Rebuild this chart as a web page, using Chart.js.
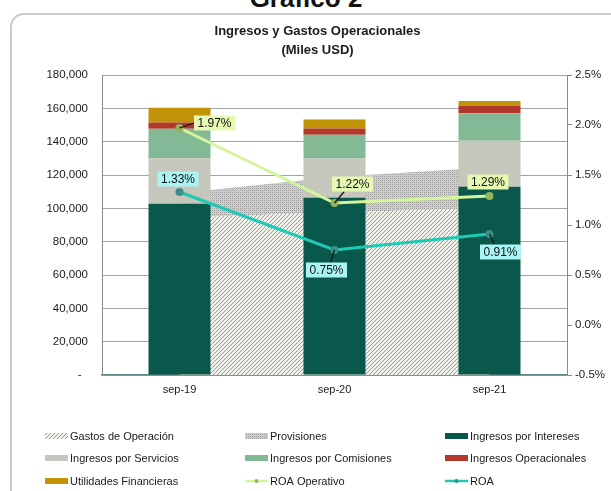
<!DOCTYPE html>
<html>
<head>
<meta charset="utf-8">
<script src="https://cdn.jsdelivr.net/npm/chart.js@4.4.1/dist/chart.umd.min.js"></script>
<style>
html,body{margin:0;padding:0;width:611px;height:491px;overflow:hidden;background:#fff;}
#cap{position:absolute;left:0;top:-17px;width:612px;text-align:center;font:bold 26px "Liberation Sans",Arial,sans-serif;line-height:30px;color:#111;}
#frame{position:absolute;left:10px;top:13px;width:650px;height:540px;border:2px solid #cbcbcb;border-radius:14px;box-sizing:border-box;background:#fff;}
#c{position:absolute;left:0;top:0;}
</style>
</head>
<body>
<div id="cap">Gráfico 2</div>
<div id="frame"></div>
<canvas id="c" width="611" height="491"></canvas>
<script>
// ---- data ----
const categories = ['sep-19', 'sep-20', 'sep-21'];
const gastosOperacion = [94500, 97500, 100000];
const provisiones = [14500, 21300, 24600];
const ingresosIntereses = [102700, 106400, 113000];
const ingresosServicios = [27300, 23500, 27600];
const ingresosComisiones = [17700, 14200, 16400];
const ingresosOperacionales = [3800, 3800, 4600];
const utilidadesFinancieras = [8800, 5400, 2800];
const roaOperativo = [1.97, 1.22, 1.29];
const roa = [1.33, 0.75, 0.91];
const titleLines = ['Ingresos y Gastos Operacionales', '(Miles USD)'];

// ---- styles ----
const FONT = '"Liberation Sans", Arial, sans-serif';
Chart.defaults.font.family = FONT;
Chart.defaults.color = '#1a1a1a';

function makePattern(draw, size) {
  const t = document.createElement('canvas');
  t.width = size; t.height = size;
  draw(t.getContext('2d'), size);
  return document.getElementById('c').getContext('2d').createPattern(t, 'repeat');
}
const hatch = makePattern((g, s) => {
  g.fillStyle = '#f1f1ec'; g.fillRect(0, 0, s, s);
  g.strokeStyle = '#9c9c98'; g.lineWidth = 1;
  g.beginPath();
  g.moveTo(-1, s + 1); g.lineTo(s + 1, -1);
  g.moveTo(-1, 1); g.lineTo(1, -1);
  g.moveTo(s - 1, s + 1); g.lineTo(s + 1, s - 1);
  g.stroke();
}, 4);
const dots = makePattern((g, s) => {
  g.fillStyle = '#d2d2d2'; g.fillRect(0, 0, s, s);
  g.fillStyle = '#9e9e9e';
  g.fillRect(0, 0, 1, 1); g.fillRect(2, 2, 1, 1);
  g.fillRect(2, 0, 1, 1); g.fillRect(0, 2, 1, 1);
  g.fillStyle = '#bdbdbd';
  g.fillRect(1, 1, 1, 1); g.fillRect(3, 3, 1, 1);
}, 4);

// label placement relative to each point, and leader end on the box (fractions of box); style only
const roaOpLabelOffsets = [[35, -5], [18, -19], [-1.5, -14]];
const roaOpLeaders = [[0, 0.5], [0.3, 1], null];
const roaLabelOffsets = [[-1.5, -13], [-8, 20], [11, 18]];
const roaLeaders = [null, [0.6, 0], [0.35, 0]];

const datasets = [
  { type: 'line', label: 'ROA Operativo', data: roaOperativo, yAxisID: 'y1', order: 0,
    borderColor: '#d5f59b', borderWidth: 3, pointStyle: 'circle', pointRadius: 2.5,
    pointBackgroundColor: '#93b35c', pointBorderColor: '#93b35c', tension: 0, fill: false,
    labelOffsets: roaOpLabelOffsets, labelLeaders: roaOpLeaders, labelBg: '#e5f9b2' },
  { type: 'line', label: 'ROA', data: roa, yAxisID: 'y1', order: 0,
    borderColor: '#1fc9b3', borderWidth: 3, pointStyle: 'circle', pointRadius: 2.5,
    pointBackgroundColor: '#3b8e86', pointBorderColor: '#3b8e86', tension: 0, fill: false,
    labelOffsets: roaLabelOffsets, labelLeaders: roaLeaders, labelBg: '#aaf4f4' },
  { type: 'bar', label: 'Ingresos por Intereses', data: ingresosIntereses, backgroundColor: '#0a574b', stack: 'ing', order: 1 },
  { type: 'bar', label: 'Ingresos por Servicios', data: ingresosServicios, backgroundColor: '#c5c6bc', stack: 'ing', order: 1 },
  { type: 'bar', label: 'Ingresos por Comisiones', data: ingresosComisiones, backgroundColor: '#84b996', stack: 'ing', order: 1 },
  { type: 'bar', label: 'Ingresos Operacionales', data: ingresosOperacionales, backgroundColor: '#b3372b', stack: 'ing', order: 1 },
  { type: 'bar', label: 'Utilidades Financieras', data: utilidadesFinancieras, backgroundColor: '#c09406', stack: 'ing', order: 1 },
  { type: 'line', label: 'Gastos de Operación', data: gastosOperacion, stack: 'gas', order: 2,
    backgroundColor: hatch, borderWidth: 0, pointRadius: 0, fill: 'origin', tension: 0, legendKind: 'hatch' },
  { type: 'line', label: 'Provisiones', data: provisiones, stack: 'gas', order: 2,
    backgroundColor: dots, borderWidth: 0, pointRadius: 0, fill: '-1', tension: 0, legendKind: 'dots' }
];
const legendOrder = ['Gastos de Operación', 'Provisiones', 'Ingresos por Intereses',
  'Ingresos por Servicios', 'Ingresos por Comisiones', 'Ingresos Operacionales',
  'Utilidades Financieras', 'ROA Operativo', 'ROA'];

const labelPlugin = {
  id: 'roaLabels',
  afterDatasetsDraw(chart) {
    const ctx = chart.ctx;
    ctx.save();
    ctx.font = '12px ' + FONT;
    chart.data.datasets.forEach((ds, i) => {
      if (!ds.labelOffsets) return;
      const meta = chart.getDatasetMeta(i);
      meta.data.forEach((pt, j) => {
        const [dx, dy] = ds.labelOffsets[j];
        const text = ds.data[j].toFixed(2) + '%';
        const w = ctx.measureText(text).width + 7, h = 15;
        const cx = pt.x + dx, cy = pt.y + dy;
        const bx = cx - w / 2, by = cy - h / 2;
        const ld = ds.labelLeaders[j];
        if (ld) {
          ctx.strokeStyle = '#111'; ctx.lineWidth = 1.2;
          ctx.beginPath(); ctx.moveTo(pt.x, pt.y); ctx.lineTo(bx + w * ld[0], by + h * ld[1]); ctx.stroke();
        }
        ctx.fillStyle = ds.labelBg;
        ctx.fillRect(bx, by, w, h);
        ctx.fillStyle = '#111';
        ctx.textAlign = 'center'; ctx.textBaseline = 'middle';
        ctx.fillText(text, cx, cy + 0.5);
      });
    });
    ctx.restore();
  }
};

const legendPlugin = {
  id: 'gridLegend',
  afterDraw(chart) {
    const ctx = chart.ctx;
    const colX = [45, 245, 445], rowY = [436, 458, 481];
    ctx.save();
    ctx.font = '11px ' + FONT;
    ctx.textBaseline = 'middle'; ctx.textAlign = 'left';
    legendOrder.forEach((name, k) => {
      const ds = chart.data.datasets.find(d => d.label === name);
      const x = colX[k % 3], y = rowY[Math.floor(k / 3)];
      if (ds.type === 'bar' || ds.legendKind) {
        ctx.fillStyle = ds.backgroundColor;
        ctx.fillRect(x, y - 3, 23, 6);
      } else {
        ctx.strokeStyle = ds.borderColor; ctx.lineWidth = 2.5;
        ctx.beginPath(); ctx.moveTo(x, y); ctx.lineTo(x + 23, y); ctx.stroke();
        ctx.fillStyle = ds.pointBackgroundColor;
        ctx.beginPath(); ctx.arc(x + 11.5, y, 2, 0, Math.PI * 2); ctx.fill();
      }
      ctx.fillStyle = '#1a1a1a';
      ctx.fillText(name, x + 25, y + 0.5);
    });
    ctx.restore();
  }
};

new Chart(document.getElementById('c'), {
  data: { labels: categories, datasets },
  options: {
    responsive: false,
    animation: false,
    devicePixelRatio: 1,
    layout: { padding: { left: 24, right: 0, top: 0, bottom: 86 } },
    plugins: {
      legend: { display: false },
      tooltip: { enabled: false },
      title: {
        display: true, text: titleLines, color: '#1a1a1a',
        font: { size: 13, weight: 'bold', lineHeight: 1.45 },
        padding: { top: 22, bottom: 15.3 }
      }
    },
    datasets: { bar: { categoryPercentage: 0.8, barPercentage: 0.5 } },
    scales: {
      x: {
        stacked: true,
        grid: { display: false, drawTicks: false },
        border: { display: true, color: '#5f8a85', width: 1.5 },
        ticks: { padding: 8, font: { size: 11 } },
        afterFit(s) { s.height = 30; }
      },
      y: {
        stacked: true, position: 'left', min: 0, max: 180000,
        grid: { color: '#a3a3a3', lineWidth: 1, drawTicks: false },
        border: { display: true, color: '#8a8a8a' },
        ticks: { stepSize: 20000, padding: 14, font: { size: 11.5 },
          callback: v => v === 0 ? '-  ' : v.toLocaleString('en-US') },
        afterFit(s) { s.width = 78; }
      },
      y1: {
        position: 'right', min: -0.5, max: 2.5,
        grid: { drawOnChartArea: false, drawTicks: true, tickLength: 5, color: '#8a8a8a' },
        border: { display: true, color: '#8a8a8a' },
        ticks: { stepSize: 0.5, padding: 3, font: { size: 11.5 },
          callback: v => v.toFixed(1) + '%' },
        afterFit(s) { s.width = 44; }
      }
    }
  },
  plugins: [labelPlugin, legendPlugin]
});
</script>
</body>
</html>
